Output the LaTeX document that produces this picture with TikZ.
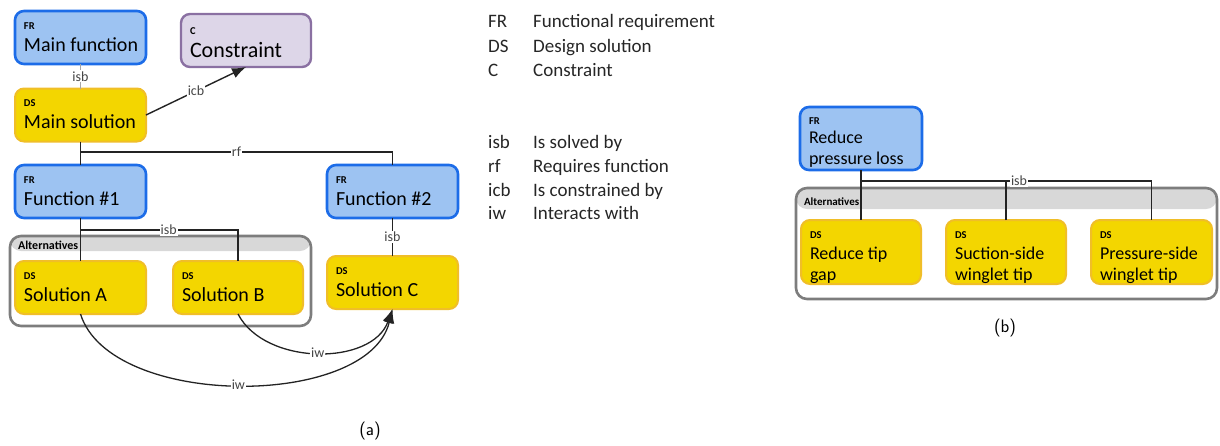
\documentclass[tikz,border=0pt]{standalone}
\usepackage{fontspec}
\setmainfont{Carlito}
\usetikzlibrary{arrows.meta}
\definecolor{frfill}{RGB}{157,195,242}
\definecolor{frdraw}{RGB}{28,108,232}
\definecolor{dsfill}{RGB}{243,214,0}
\definecolor{dsdraw}{RGB}{240,190,40}
\definecolor{cfill}{RGB}{221,214,232}
\definecolor{cdraw}{RGB}{138,112,162}
\definecolor{altdraw}{RGB}{125,125,125}
\definecolor{altbar}{RGB}{216,216,216}
\definecolor{edgec}{RGB}{35,35,35}
\definecolor{lblc}{RGB}{70,70,70}
% width, height, tag top, tag, gap, font, text
\newcommand{\bx}[7]{\parbox[c][#2][t]{#1}{\raggedright\parindent=0pt\leftskip=9pt
 \vspace*{#3}{\fontsize{10.5}{10.5}\selectfont\bfseries #4\par}\vspace*{#5}{#6 #7\par}}}
\newcommand{\altx}[4]{\parbox[c][#2][t]{#1}{\raggedright\parindent=0pt\leftskip=8pt
 \vspace*{#3}{\fontsize{#4}{#4}\selectfont\bfseries Alternatives\par}}}
\newcommand{\fa}{\fontsize{20}{22}\selectfont}
\newcommand{\fb}{\fontsize{18}{21}\selectfont}
\newcommand{\fc}{\fontsize{22}{23}\selectfont}
\tikzset{
 base/.style={rounded corners=9pt, inner sep=0pt, outer sep=0pt},
 frbox/.style={base, draw=frdraw, fill=frfill, line width=2.6pt},
 dsbox/.style={base, draw=dsdraw, fill=dsfill, line width=2pt},
 cbox/.style={base, draw=cdraw, fill=cfill, line width=2.4pt},
 altbox/.style={rounded corners=11pt, draw=altdraw, fill=white, line width=2.6pt, inner sep=0pt, outer sep=0pt,
   path picture={\fill[altbar] (path picture bounding box.north west) rectangle ([yshift=-#1]path picture bounding box.north east);}},
 conn/.style={draw=edgec, line width=1.4pt},
 lbl/.style={fill=white, inner sep=1pt, text=lblc, font=\fontsize{14}{14}\selectfont},
 legend/.style={anchor=base west, inner sep=0pt, font=\fontsize{19}{19}\selectfont, text=black!85},
 captxt/.style={font=\sffamily\fontsize{18}{18}\selectfont},
 arrowtip/.style={-{Latex[length=14pt,width=10.5pt]}}
}
\begin{document}
\begin{tikzpicture}[x=1pt,y=-1pt]
\useasboundingbox (0,0) rectangle (1220,445);
% ---------- panel (a)
\node[altbox=15pt, minimum width=301pt, minimum height=90pt] (alt) at (160.5,281)
  {\altx{301pt}{90pt}{5pt}{12}};
\node[frbox, minimum width=131pt, minimum height=53pt] (mf) at (80.5,37.5)
  {\bx{131pt}{53pt}{11.5pt}{FR}{0pt}{\fa}{Main function}};
\node[cbox, minimum width=130pt, minimum height=53pt] (con) at (246,40.5)
  {\bx{130pt}{53pt}{14pt}{C}{0pt}{\fc}{Constraint}};
\node[dsbox, minimum width=131pt, minimum height=53pt] (ms) at (80.5,115)
  {\bx{131pt}{53pt}{11pt}{DS}{0pt}{\fa}{Main solution}};
\node[frbox, minimum width=131pt, minimum height=53pt] (f1) at (80.5,191.5)
  {\bx{131pt}{53pt}{11.5pt}{FR}{0pt}{\fa}{Function \#1}};
\node[frbox, minimum width=131pt, minimum height=53pt] (f2) at (392.5,191.5)
  {\bx{131pt}{53pt}{11.5pt}{FR}{0pt}{\fa}{Function \#2}};
\node[dsbox, minimum width=131pt, minimum height=53pt] (sa) at (80.5,287.5)
  {\bx{131pt}{53pt}{11.5pt}{DS}{0pt}{\fa}{Solution A}};
\node[dsbox, minimum width=130pt, minimum height=53pt] (sb) at (238,287.5)
  {\bx{130pt}{53pt}{11.5pt}{DS}{0pt}{\fa}{Solution B}};
\node[dsbox, minimum width=131pt, minimum height=53pt] (sc) at (392.5,282.5)
  {\bx{131pt}{53pt}{11.5pt}{DS}{0pt}{\fa}{Solution C}};
\coordinate (rfj) at (80.5,152);
\coordinate (isbj) at (80.5,230);
% connectors
\draw[draw=gray!70, line width=1pt] (mf.south) -- (ms.north) node[lbl, midway] {isb};
\draw[conn, arrowtip] (ms.east) -- (con.south) node[lbl, midway] {icb};
\draw[conn] (ms.south) -- (f1.north);
\draw[conn] (rfj) -| (f2.north) node[lbl, pos=0.25] {rf};
\draw[conn] (f1.south) -- (sa.north);
\draw[conn] (isbj) -| (sb.north) node[lbl, pos=0.28] {isb};
\draw[conn] (f2.south) -- (sc.north) node[lbl, midway] {isb};
\draw[conn, line width=1.3pt, arrowtip] (sa.south) .. controls (110,409) and (368,409) .. (sc.south)
  node[lbl, pos=0.5] {iw};
\draw[conn, line width=1.3pt, arrowtip] (sb.south) .. controls (265,366) and (372,366) .. (sc.south)
  node[lbl, pos=0.5] {iw};
\node[captxt] (capa) at (370,431) {(a)};
% ---------- legend
\node[legend] (l1a) at (488,27) {FR};
\node[legend] (l1b) at (533,27) {Functional requirement};
\node[legend] (l2a) at (488,52) {DS};
\node[legend] (l2b) at (533,52) {Design solution};
\node[legend] (l3a) at (488,76) {C};
\node[legend] (l3b) at (533,76) {Constraint};
\node[legend] (l4a) at (488,148) {isb};
\node[legend] (l4b) at (533,148) {Is solved by};
\node[legend] (l5a) at (488,172) {rf};
\node[legend] (l5b) at (533,172) {Requires function};
\node[legend] (l6a) at (488,196) {icb};
\node[legend] (l6b) at (533,196) {Is constrained by};
\node[legend] (l7a) at (488,219) {iw};
\node[legend] (l7b) at (533,219) {Interacts with};
% ---------- panel (b)
\node[altbox=21pt, minimum width=421pt, minimum height=111pt] (altb) at (1006.5,243.5)
  {\altx{421pt}{111pt}{10pt}{11}};
\node[frbox, minimum width=122pt, minimum height=63pt] (rpl) at (861,138.5)
  {\bx{122pt}{63pt}{11pt}{FR}{-2pt}{\fb}{Reduce\\pressure loss}};
\node[dsbox, minimum width=120pt, minimum height=64pt] (d1) at (861,252)
  {\bx{120pt}{64pt}{11.5pt}{DS}{0pt}{\fb}{Reduce tip\\gap}};
\node[dsbox, minimum width=120pt, minimum height=64pt] (d2) at (1006,252)
  {\bx{120pt}{64pt}{11.5pt}{DS}{0pt}{\fb}{Suction-side\\winglet tip}};
\node[dsbox, minimum width=121pt, minimum height=64pt] (d3) at (1151.5,252)
  {\bx{121pt}{64pt}{11.5pt}{DS}{0pt}{\fb}{Pressure-side\\winglet tip}};
\coordinate (jb) at (861,181);
\draw[conn] (rpl.south) -- (d1.north);
\draw[conn] (jb) -| (d3.north) node[lbl, pos=0.272] {isb};
\draw[conn] (d2.north) -- (d2.north |- jb);
\node[captxt] (capb) at (1005,328) {(b)};
\end{tikzpicture}
\end{document}
